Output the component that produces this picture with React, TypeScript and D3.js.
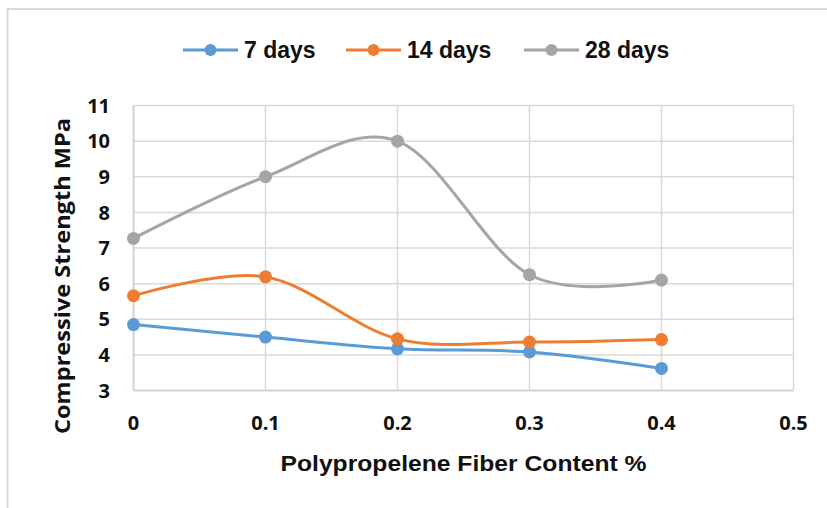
import React from "react";
import * as d3 from "d3";

// Fiber content (%) on the x axis
const fiberContent = [0, 0.1, 0.2, 0.3, 0.4];
// Compressive strength (MPa) by curing age
const days7 = [4.85, 4.5, 4.17, 4.08, 3.62];
const days14 = [5.66, 6.19, 4.45, 4.36, 4.43];
const days28 = [7.27, 9.0, 10.0, 6.25, 6.1];

const seriesNames = ["7 days", "14 days", "28 days"];
const seriesColors = ["#5b9bd5", "#ed7d31", "#a5a5a5"];
const seriesValues = [days7, days14, days28];

const xTicks = [0, 0.1, 0.2, 0.3, 0.4, 0.5];
const yTicks = [3, 4, 5, 6, 7, 8, 9, 10, 11];

const W = 827;
const H = 508;
const plot = { left: 133.5, right: 793.5, top: 105.5, bottom: 390.5 };
const legendStarts = [183, 346, 524];

const tickFont = "'Open Sans', 'DejaVu Sans', sans-serif";
const titleFont = "'Liberation Sans', Arial, sans-serif";
const grid = "#d9d9d9";

export default function App() {
  const x = d3.scaleLinear().domain([0, 0.5]).range([plot.left, plot.right]);
  const y = d3.scaleLinear().domain([3, 11]).range([plot.bottom, plot.top]);

  const line = d3
    .line<number>()
    .x((_, i) => x(fiberContent[i]))
    .y((d) => y(d))
    .curve(d3.curveCatmullRom.alpha(0));

  return (
    <svg
      width={W}
      height={H}
      viewBox={`0 0 ${W} ${H}`}
      style={{ position: "absolute", left: 0, top: 0, display: "block", background: "#fff" }}
    >
      {/* outer chart frame */}
      <rect x={7.5} y={9} width={W + 10} height={H + 10} fill="#fff" stroke="#d9d9d9" strokeWidth={2} />

      {/* gridlines */}
      {yTicks.map((t) => (
        <line key={"gy" + t} x1={plot.left} x2={plot.right} y1={y(t)} y2={y(t)} stroke={grid} strokeWidth={1.5} />
      ))}
      {xTicks.map((t) => (
        <line key={"gx" + t} x1={x(t)} x2={x(t)} y1={plot.top} y2={plot.bottom} stroke={grid} strokeWidth={1.5} />
      ))}
      {/* axis lines */}
      <line x1={plot.left} x2={plot.right} y1={plot.bottom} y2={plot.bottom} stroke="#cfcfcf" strokeWidth={1.5} />
      <line x1={plot.left} x2={plot.left} y1={plot.top} y2={plot.bottom} stroke="#cfcfcf" strokeWidth={1.5} />

      {/* tick labels */}
      {yTicks.map((t) => (
        <text
          key={"ty" + t}
          x={110}
          y={y(t)}
          dy="0.36em"
          textAnchor="end"
          fontFamily={tickFont}
          fontWeight={700}
          fontSize={20}
          fill="#111"
        >
          {t}
        </text>
      ))}
      {xTicks.map((t) => (
        <text
          key={"tx" + t}
          x={x(t)}
          y={430}
          textAnchor="middle"
          fontFamily={tickFont}
          fontWeight={700}
          fontSize={20}
          fill="#111"
        >
          {d3.format("~g")(t)}
        </text>
      ))}

      {/* series */}
      {seriesValues.map((vals, s) => (
        <g key={"s" + s}>
          <path d={line(vals) || ""} fill="none" stroke={seriesColors[s]} strokeWidth={3} strokeLinejoin="round" />
          {vals.map((v, i) => (
            <circle key={i} cx={x(fiberContent[i])} cy={y(v)} r={6.5} fill={seriesColors[s]} />
          ))}
        </g>
      ))}

      {/* axis titles */}
      <text
        x={463.5}
        y={470.5}
        textAnchor="middle"
        fontFamily={titleFont}
        fontWeight={700}
        fontSize={22}
        textLength={366}
        lengthAdjust="spacingAndGlyphs"
        fill="#111"
      >
        Polypropelene Fiber Content %
      </text>
      <text
        transform="translate(69.5,276) rotate(-90)"
        textAnchor="middle"
        fontFamily={tickFont}
        fontWeight={700}
        fontSize={21}
        textLength={316}
        lengthAdjust="spacingAndGlyphs"
        fill="#111"
      >
        Compressive Strength MPa
      </text>

      {/* legend */}
      {seriesNames.map((name, s) => (
        <g key={"l" + s} transform={`translate(${legendStarts[s]},50)`}>
          <line x1={0} x2={55} y1={0} y2={0} stroke={seriesColors[s]} strokeWidth={3} />
          <circle cx={27.5} cy={0} r={6} fill={seriesColors[s]} />
          <text x={61} y={8.3} fontFamily={titleFont} fontWeight={700} fontSize={23} fill="#111">
            {name}
          </text>
        </g>
      ))}
    </svg>
  );
}
